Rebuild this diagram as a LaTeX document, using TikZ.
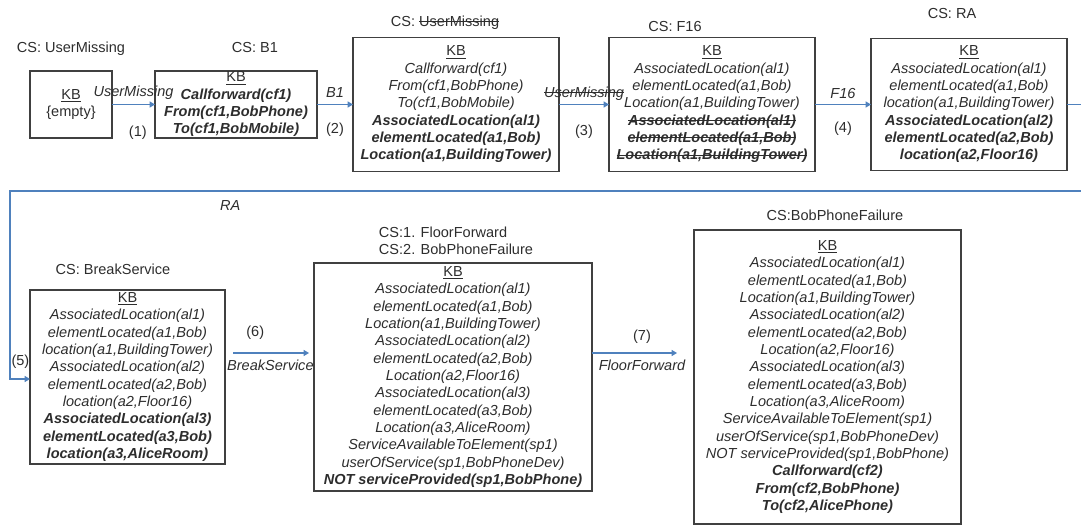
\documentclass[tikz,border=0pt]{standalone}
\usepackage{fontspec}
\setmainfont{Liberation Sans}
\usetikzlibrary{positioning,arrows.meta}

\definecolor{flowblue}{RGB}{79,129,189}
\definecolor{inkgrey}{RGB}{45,45,45}
\newsavebox{\strikebox}
\newcommand{\strikeout}[1]{\sbox\strikebox{#1}\rlap{\rule[0.3em]{\wd\strikebox}{0.6pt}}\usebox\strikebox}
\newcommand{\added}[1]{\textbf{#1}}
\newcommand{\dropped}[1]{\strikeout{\textbf{#1}}}

\begin{document}
\begin{tikzpicture}[
      x=0.75pt, y=-0.75pt,
      font=\fontsize{10.9}{13}\selectfont, text=inkgrey,
      kb/.style={draw=black!75, line width=1pt, align=center, inner sep=0pt, outer sep=0pt,
                 font=\fontsize{10.9}{13}\selectfont\itshape},
      cs/.style={inner sep=0pt, text height=7.8pt, text depth=2.2pt},
      lbl/.style={cs, font=\fontsize{10.9}{13}\selectfont\itshape},
      arr/.style={-{Triangle[length=4pt,width=4.5pt]}, draw=flowblue, line width=0.8pt}
    ]
    \useasboundingbox (0,0) rectangle (1081,527);
    % top row
    \node[kb, minimum width=61.5pt, minimum height=50.25pt] (b1) at (71,104.5)
      {\underline{\upshape KB}\\\upshape\{empty\}};
    \node[kb, right=32.25pt of b1, minimum width=121.5pt, minimum height=50.25pt] (b2)
      {\underline{\upshape KB}\\\added{Callforward(cf1)}\\\added{From(cf1,BobPhone)}\\\added{To(cf1,BobMobile)}};
    \node[kb, right=27pt of b2, minimum width=154.5pt, minimum height=100.5pt] (b3)
      {\underline{\upshape KB}\\Callforward(cf1)\\From(cf1,BobPhone)\\To(cf1,BobMobile)\\
       \added{AssociatedLocation(al1)}\\\added{elementLocated(a1,Bob)}\\\added{Location(a1,BuildingTower)}};
    \node[kb, right=37.5pt of b3, minimum width=154.5pt, minimum height=100.5pt] (b4)
      {\underline{\upshape KB}\\AssociatedLocation(al1)\\elementLocated(a1,Bob)\\Location(a1,BuildingTower)\\
       \dropped{AssociatedLocation(al1)}\\\dropped{elementLocated(a1,Bob)}\\\dropped{Location(a1,BuildingTower)}};
    \node[kb, right=42pt of b4, minimum width=147pt, minimum height=99pt] (b5)
      {\underline{\upshape KB}\\AssociatedLocation(al1)\\elementLocated(a1,Bob)\\location(a1,BuildingTower)\\
       \added{AssociatedLocation(al2)}\\\added{elementLocated(a2,Bob)}\\\added{location(a2,Floor16)}};
    % bottom row
    \node[kb, minimum width=146.25pt, minimum height=130.5pt] (b6) at (127.5,377)
      {\underline{\upshape KB}\\AssociatedLocation(al1)\\elementLocated(a1,Bob)\\location(a1,BuildingTower)\\
       AssociatedLocation(al2)\\elementLocated(a2,Bob)\\location(a2,Floor16)\\
       \added{AssociatedLocation(al3)}\\\added{elementLocated(a3,Bob)}\\\added{location(a3,AliceRoom)}};
    \node[kb, right=66.75pt of b6, minimum width=208.5pt, minimum height=171pt] (b7)
      {\underline{\upshape KB}\\AssociatedLocation(al1)\\elementLocated(a1,Bob)\\Location(a1,BuildingTower)\\
       AssociatedLocation(al2)\\elementLocated(a2,Bob)\\Location(a2,Floor16)\\
       AssociatedLocation(al3)\\elementLocated(a3,Bob)\\Location(a3,AliceRoom)\\
       ServiceAvailableToElement(sp1)\\userOfService(sp1,BobPhoneDev)\\\added{NOT serviceProvided(sp1,BobPhone)}};
    \node[kb, right=76.5pt of b7, minimum width=200.25pt, minimum height=220.5pt] (b8)
      {\underline{\upshape KB}\\AssociatedLocation(al1)\\elementLocated(a1,Bob)\\Location(a1,BuildingTower)\\
       AssociatedLocation(al2)\\elementLocated(a2,Bob)\\Location(a2,Floor16)\\
       AssociatedLocation(al3)\\elementLocated(a3,Bob)\\Location(a3,AliceRoom)\\
       ServiceAvailableToElement(sp1)\\userOfService(sp1,BobPhoneDev)\\NOT serviceProvided(sp1,BobPhone)\\
       \added{Callforward(cf2)}\\\added{From(cf2,BobPhone)}\\\added{To(cf2,AlicePhone)}};
    % situation labels
    \node[cs, above=11.2pt of b1] (cs1) {CS: UserMissing};
    \node[cs, above=11.2pt of b2, xshift=14.25pt] (cs2) {CS: B1};
    \node[cs, above=5.9pt of b3, xshift=-8.25pt] (cs3) {CS: \strikeout{UserMissing}};
    \node[cs, above=2.2pt of b4, xshift=-27.75pt] (cs4) {CS: F16};
    \node[cs, above=12.6pt of b5, xshift=-12.75pt] (cs5) {CS: RA};
    \node[cs, above=9.6pt of b6, xshift=-10.9pt] (cs6) {CS: BreakService};
    \node[cs, align=left, above=3.65pt of b7, xshift=2.25pt] (cs7) {CS:1. FloorForward\\CS:2. BobPhoneFailure};
    \node[cs, above=4.4pt of b8, xshift=5.6pt] (cs8) {CS:BobPhoneFailure};
    % transitions
    \coordinate (r1) at (1090,191);
    \coordinate (r2) at (10,191);
    \coordinate (r3) at (10,379);
    \coordinate (rowb) at (0,353);
    \draw[arr] (b1) -- node[lbl, above=3.65pt] (m1) {UserMissing} node[cs, pos=0.6, below=15.6pt] (n1) {(1)} (b2);
    \draw[arr] (b2) -- node[lbl, above=2.9pt] (m2) {B1} node[cs, below=13.35pt] (n2) {(2)} (b3);
    \draw[arr] (b3) -- node[lbl, above=2.9pt] (m3) {\strikeout{UserMissing}} node[cs, below=14.85pt] (n3) {(3)} (b4);
    \draw[arr] (b4) -- node[lbl, above=1.7pt] (m4) {F16} node[cs, below=12.6pt] (n4) {(4)} (b5);
    \draw[arr] (b5.east) -- (b5.east -| r1) -- (r1)
      -- node[lbl, pos=0.796, below=6.6pt] (m5) {RA} (r2)
      -- node[cs, pos=0.91, right=0.75pt] (n5) {(5)} (r3) -- (b6.west |- r3);
    \draw[arr, shorten <=6pt, shorten >=3.75pt] (b6.east |- rowb)
      -- node[cs, pos=0.34, above=9.65pt] (n6) {(6)} node[lbl, pos=0.51, below=5.1pt] (m6) {BreakService} (b7.west |- rowb);
    \draw[arr, shorten >=12.75pt] (b7.east |- rowb)
      -- node[cs, pos=0.49, above=6.65pt] (n7) {(7)} node[lbl, pos=0.49, below=5.1pt] (m7) {FloorForward} (b8.west |- rowb);
  \end{tikzpicture}
\end{document}
